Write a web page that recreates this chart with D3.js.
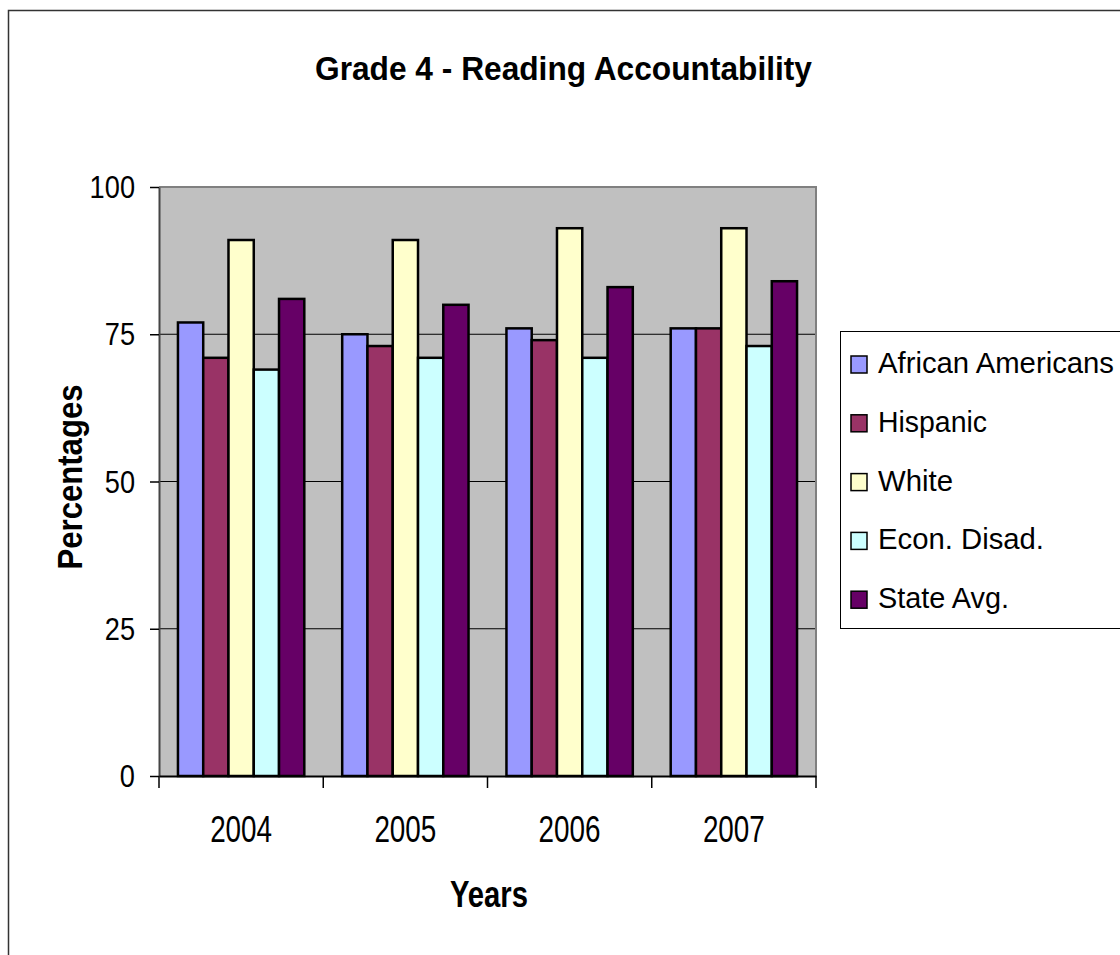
<!DOCTYPE html>
<html>
<head>
<meta charset="utf-8">
<script src="https://cdn.jsdelivr.net/npm/d3@7"></script>
<style>
  body { margin: 0; background: #fff; }
  text { font-family: "Liberation Sans", Arial, sans-serif; fill: #000; }
</style>
</head>
<body>
<svg id="chart" width="1120" height="955"></svg>
<script>
// -------------------------
// DATA
// -------------------------
const years = ["2004", "2005", "2006", "2007"];
const series = ["African Americans", "Hispanic", "White", "Econ. Disad.", "State Avg."];
const africanAmericans = [77, 75, 76, 76];
const hispanic = [71, 73, 74, 76];
const white = [91, 91, 93, 93];
const econDisad = [69, 71, 71, 73];
const stateAvg = [81, 80, 83, 84];
const yTicks = [0, 25, 50, 75, 100];
const colors = ["#9999ff", "#993366", "#ffffcc", "#ccffff", "#660066"];

const values = [africanAmericans, hispanic, white, econDisad, stateAvg];

// -------------------------
// LAYOUT
// -------------------------
const plot = { left: 159, right: 816, top: 187, bottom: 776 };
const svg = d3.select("#chart");

// squeeze text horizontally, the reference font is narrow
function fit(sel, width) {
  sel.attr("textLength", width).attr("lengthAdjust", "spacingAndGlyphs");
}
function squeeze(sel, k) {
  sel.each(function () {
    const w = this.getComputedTextLength();
    d3.select(this).attr("textLength", w * k).attr("lengthAdjust", "spacingAndGlyphs");
  });
}

// outer chart border (runs off right and bottom)
svg.append("rect")
  .attr("x", 8.5).attr("y", 10.5).attr("width", 1130).attr("height", 960)
  .attr("fill", "none").attr("stroke", "#333").attr("stroke-width", 1.5);

// -------------------------
// SCALES
// -------------------------
const x0 = d3.scaleBand().domain(years).range([plot.left, plot.right]).padding(0);
const bw = x0.bandwidth();
const gap = bw * 0.75 / 6.5;
const x1 = d3.scaleBand().domain(series).range([gap, bw - gap]).padding(0);
const y = d3.scaleLinear().domain([0, 100]).range([plot.bottom, plot.top]);

// plot area
svg.append("rect")
  .attr("x", plot.left).attr("y", plot.top)
  .attr("width", plot.right - plot.left).attr("height", plot.bottom - plot.top)
  .attr("fill", "#c0c0c0");

// gridlines
svg.append("g").selectAll("line").data(yTicks.filter(d => d > 0 && d < 100)).enter().append("line")
  .attr("x1", plot.left).attr("x2", plot.right)
  .attr("y1", d => y(d)).attr("y2", d => y(d))
  .attr("stroke", "#000").attr("stroke-width", 1);

// top + right border of plot area
svg.append("path")
  .attr("d", `M${plot.left},${plot.top}H${plot.right}V${plot.bottom}`)
  .attr("fill", "none").attr("stroke", "#808080").attr("stroke-width", 2);

// -------------------------
// BARS
// -------------------------
const groups = svg.append("g").selectAll("g").data(years).enter().append("g")
  .attr("transform", d => `translate(${x0(d)},0)`);

groups.selectAll("rect")
  .data((yr, i) => series.map((s, j) => ({ s, j, v: values[j][i] })))
  .enter().append("rect")
  .attr("x", d => x1(d.s))
  .attr("y", d => y(d.v))
  .attr("width", x1.bandwidth())
  .attr("height", d => y(0) - y(d.v))
  .attr("fill", d => colors[d.j])
  .attr("stroke", "#000").attr("stroke-width", 2.5);

// -------------------------
// AXES
// -------------------------
const yAxis = svg.append("g")
  .attr("transform", `translate(${plot.left},0)`)
  .call(d3.axisLeft(y).tickValues(yTicks).tickSize(9).tickPadding(15).tickSizeOuter(0));
yAxis.select(".domain").attr("stroke", "#444").attr("stroke-width", 2);
yAxis.selectAll(".tick line").attr("stroke", "#000").attr("stroke-width", 1.5);
yAxis.selectAll(".tick text")
  .attr("font-size", 32).attr("font-family", "Liberation Sans, Arial, sans-serif")
  .attr("dy", "0.33em").call(squeeze, 0.85);

const xAxis = svg.append("g")
  .attr("transform", `translate(0,${plot.bottom})`)
  .call(d3.axisBottom(x0).tickSize(0).tickPadding(40).tickSizeOuter(0));
xAxis.select(".domain").attr("stroke", "#000").attr("stroke-width", 2);
xAxis.selectAll(".tick text")
  .attr("font-size", 37).attr("font-family", "Liberation Sans, Arial, sans-serif")
  .call(fit, 62);

// category boundary ticks
svg.append("g").selectAll("line")
  .data(years.map(d => x0(d)).concat([x0.range()[1]]))
  .enter().append("line")
  .attr("x1", d => d).attr("x2", d => d)
  .attr("y1", plot.bottom).attr("y2", plot.bottom + 12)
  .attr("stroke", "#000").attr("stroke-width", 1.5);

// -------------------------
// TITLES
// -------------------------
svg.append("text")
  .attr("x", 563.5).attr("y", 80).attr("text-anchor", "middle")
  .attr("font-size", 33).attr("font-weight", "bold")
  .text("Grade 4 - Reading Accountability")
  .call(fit, 497);

svg.append("text")
  .attr("x", 489).attr("y", 907).attr("text-anchor", "middle")
  .attr("font-size", 37).attr("font-weight", "bold")
  .text("Years")
  .call(fit, 78);

svg.append("text")
  .attr("transform", "translate(82,477) rotate(-90)")
  .attr("text-anchor", "middle")
  .attr("font-size", 35).attr("font-weight", "bold")
  .text("Percentages")
  .call(fit, 185);

// -------------------------
// LEGEND
// -------------------------
const legend = svg.append("g");
legend.append("rect")
  .attr("x", 840.5).attr("y", 331.5).attr("width", 300).attr("height", 297)
  .attr("fill", "#fff").attr("stroke", "#000").attr("stroke-width", 1);

const legendWidths = [236, 109, 75, 166, 131];
const rows = legend.selectAll("g.row").data(series).enter().append("g")
  .attr("class", "row")
  .attr("transform", (d, i) => `translate(0,${373 + i * 58.8})`);

rows.append("rect")
  .attr("x", 851).attr("y", -17).attr("width", 16).attr("height", 17)
  .attr("fill", (d, i) => colors[i])
  .attr("stroke", "#000").attr("stroke-width", 1.5);

rows.append("text")
  .attr("x", 878).attr("y", 0)
  .attr("font-size", 29)
  .text(d => d)
  .each(function (d, i) { fit(d3.select(this), legendWidths[i]); });
</script>
</body>
</html>
